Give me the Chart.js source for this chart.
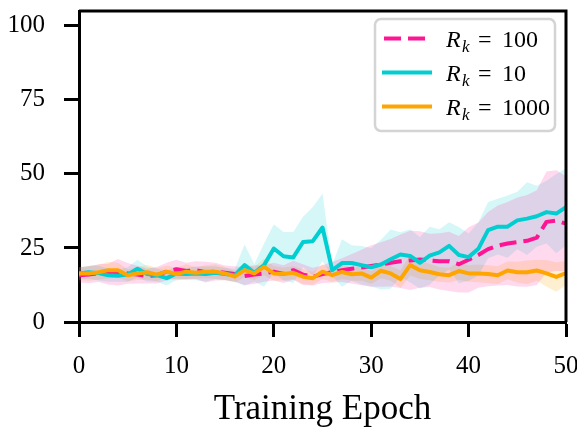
<!DOCTYPE html>
<html>
<head>
<meta charset="utf-8">
<script src="https://cdn.jsdelivr.net/npm/chart.js@4/dist/chart.umd.min.js"></script>
<style>
  html, body { margin: 0; padding: 0; background: #fff; }
  #wrap { width: 577px; height: 434px; }
</style>
</head>
<body>
<div id="wrap"><canvas id="chart" width="577" height="434"></canvas></div>
<script>
const epochs = [0,1,2,3,4,5,6,7,8,9,10,11,12,13,14,15,16,17,18,19,20,21,22,23,24,25,26,27,28,29,30,
  31,32,33,34,35,36,37,38,39,40,41,42,43,44,45,46,47,48,49,50];
const xTicks = [0, 10, 20, 30, 40, 50];
const yTicks = [0, 25, 50, 75, 100];

// R_k = 100
const pinkMean = [15.8,16.0,16.5,16.2,16.8,16.4,16.0,15.5,15.8,17.0, 17.8,17.2,17.5,16.8,17.0,16.6,16.2,15.5,16.0,16.4,
  17.0,16.2,17.5,16.0,15.3,16.2,16.8,17.5,18.0,18.4, 18.9,19.4,20.0,20.5,20.8,21.1,20.8,20.5,20.5,19.5,
  21.0,22.6,24.6,25.8,26.5,27.0,27.4,28.5,33.8,34.2, 33.2];
const pinkSpread = [2.5,2.8,3,3.5,4.5,3.5,3,2.5,2.8,3, 3.2,2.8,3,3.5,3,2.5,2.6,3,3.2,2.8, 3,3,3.2,3.5,3,3,
  3.5,4,5,6,7,7.5,8,9,10,9.5,9,9.5,10,9.5,11,11,12.5,13.5,14,15,15.5,16,17,17,16];

// R_k = 10
const tealMean = [16.4,16.8,16.5,15.8,15.6,16.0,18.0,16.2,15.8,14.8, 16.4,16.2,16.4,16.2,16.6,16.2,15.8,19.2,16.6,19.2,
  24.8,22.2,21.8,27.0,27.3,31.9,17.5,19.9,19.9,19.2, 18.5,19.4,21.2,22.8,22.3,20.0,22.4,23.5,25.7,22.6,
  21.9,24.7,31.0,32.2,32.2,34.3,34.9,35.7,37.1,36.6, 38.8];
const tealSpread = [2,2.2,2.5,2.2,2,2.5,3,2.5,2.2,2.5,2.2,2,2.3,2.5,2.2,2,2.2,
  7,3,7.3,8.2,8.2,8.6,8.5,11.5,11.4,2,8,6,6.5,6.5,8.4,10,7.5,9,8.7,9.8,7.8,8,9.5,8,9,9.5,9.4,10.5,9.7,12.3,10.3,10.6,13.4,13];

// R_k = 1000
const orangeMean = [16.4,16.4,16.8,17.5,17.5,15.8,16.4,16.8,16.0,17.0, 16.2,17.0,16.6,17.0,17.0,16.4,15.3,17.5,16.4,18.6,
  16.4,16.2,16.6,15.3,14.8,17.0,15.8,16.9,16.1,16.4, 15.0,17.3,16.4,14.5,19.2,17.5,16.9,16.1,15.8,17.2,
  16.4,16.4,16.2,15.8,17.4,16.8,16.8,17.4,16.4,15.2, 16.5];
const orangeSpread = [2.2,2.5,2.5,2.8,2.5,2,2.2,2.5,2.2,2, 2.2,2.5,2,2.2,2.5,2.2,2,2.5,2.2,2.8,
  2.5,2.2,2.2,2.5,2.2,2.5,2.2,2.5,2.2,2.5, 2.2,2.5,2.5,3,3.5,3,2.8,2.5,2.5,3, 2.8,3,3,3,3,3.5,4,3.5,4.5,5, 4];

const series = [
  { k: '100', mean: pinkMean, spread: pinkSpread, color: '#ff1493', band: 'rgba(255,20,147,0.16)', dash: [17, 7] },
  { k: '10', mean: tealMean, spread: tealSpread, color: '#00ced1', band: 'rgba(0,206,209,0.16)', dash: [] },
  { k: '1000', mean: orangeMean, spread: orangeSpread, color: '#ffa500', band: 'rgba(255,165,0,0.18)', dash: [] },
];

const pts = arr => epochs.map((e, i) => ({ x: e, y: arr[i] }));

const datasets = [];
// shaded bands: lower edge then upper edge filled down to it
series.forEach((s, i) => {
  datasets.push({
    data: pts(s.mean.map((m, j) => m - s.spread[j])),
    borderWidth: 0, borderColor: 'transparent', pointRadius: 0, fill: false, order: 20 + i,
  });
  datasets.push({
    data: pts(s.mean.map((m, j) => m + s.spread[j])),
    borderWidth: 0, borderColor: 'transparent', pointRadius: 0, backgroundColor: s.band, fill: '-1', order: 20 + i,
  });
});
// mean lines, orange on top
series.forEach((s, i) => {
  datasets.push({
    data: pts(s.mean), borderColor: s.color, borderWidth: 4, borderDash: s.dash,
    borderCapStyle: 'butt', borderJoinStyle: 'round', pointRadius: 0, fill: false, tension: 0, order: 10 - i,
  });
});

const SERIF = '"Liberation Serif", "DejaVu Serif", serif';

const framePlugin = {
  id: 'frame',
  afterDatasetsDraw(chart) {
    const { ctx, chartArea: a } = chart;
    ctx.save();
    ctx.strokeStyle = '#000';
    ctx.lineWidth = 3;
    ctx.beginPath();
    ctx.moveTo(a.left, a.top); ctx.lineTo(a.right, a.top); ctx.lineTo(a.right, a.bottom);
    ctx.stroke();
    ctx.restore();
  }
};

const legendPlugin = {
  id: 'mathLegend',
  afterDraw(chart) {
    const ctx = chart.ctx;
    ctx.save();
    const bx = 375, by = 19, bw = 180, bh = 112, r = 6;
    ctx.fillStyle = 'rgba(255,255,255,0.85)';
    ctx.strokeStyle = '#d4d4d4';
    ctx.lineWidth = 2.5;
    ctx.beginPath();
    ctx.roundRect(bx, by, bw, bh, r);
    ctx.fill();
    ctx.stroke();

    const rows = [40, 74, 108];
    series.forEach((s, i) => {
      const y = rows[i];
      ctx.strokeStyle = s.color;
      ctx.lineWidth = 4;
      ctx.lineCap = 'butt';
      ctx.setLineDash(s.dash);
      ctx.beginPath();
      ctx.moveTo(s.dash.length ? 384 : 382, y - 1.5);
      ctx.lineTo(s.dash.length ? 425 : 432, y - 1.5);
      ctx.stroke();
      ctx.setLineDash([]);

      const base = y + 7;
      ctx.fillStyle = '#000';
      ctx.textBaseline = 'alphabetic';
      ctx.textAlign = 'left';
      ctx.font = 'italic 24px ' + SERIF;
      ctx.fillText('R', 446, base);
      ctx.font = 'italic 17px ' + SERIF;
      ctx.fillText('k', 462, base + 5);
      ctx.font = '24px ' + SERIF;
      ctx.fillText('=', 478, base);
      ctx.fillText(s.k, 502, base);
    });
    ctx.restore();
  }
};

new Chart(document.getElementById('chart'), {
  type: 'line',
  data: { datasets },
  options: {
    responsive: false,
    animation: false,
    events: [],
    layout: { padding: { top: 11, right: 11, left: 0, bottom: 0 } },
    plugins: { legend: { display: false }, tooltip: { enabled: false } },
    scales: {
      x: {
        type: 'linear', min: 0, max: 50,
        afterBuildTicks: s => { s.ticks = xTicks.map(v => ({ value: v })); },
        afterFit: s => { s.height = 112; s.paddingLeft = 0; s.paddingRight = 0; },
        grid: { drawOnChartArea: false, drawTicks: true, tickLength: 15, tickWidth: 3, tickColor: '#000' },
        border: { display: true, color: '#000', width: 3 },
        ticks: { color: '#000', padding: 14, font: { family: SERIF, size: 25 }, maxRotation: 0 },
        title: { display: true, text: 'Training Epoch', color: '#000', font: { family: SERIF, size: 35 }, padding: { top: 0, bottom: 3 } },
      },
      y: {
        type: 'linear', min: 0, max: 105,
        afterBuildTicks: s => { s.ticks = yTicks.map(v => ({ value: v })); },
        afterFit: s => { s.width = 79; s.paddingTop = 0; s.paddingBottom = 0; },
        grid: { drawOnChartArea: false, drawTicks: true, tickLength: 15, tickWidth: 3, tickColor: '#000' },
        border: { display: true, color: '#000', width: 3 },
        ticks: { color: '#000', padding: 19, font: { family: SERIF, size: 25 } },
      },
    },
  },
  plugins: [framePlugin, legendPlugin],
});
</script>
</body>
</html>
